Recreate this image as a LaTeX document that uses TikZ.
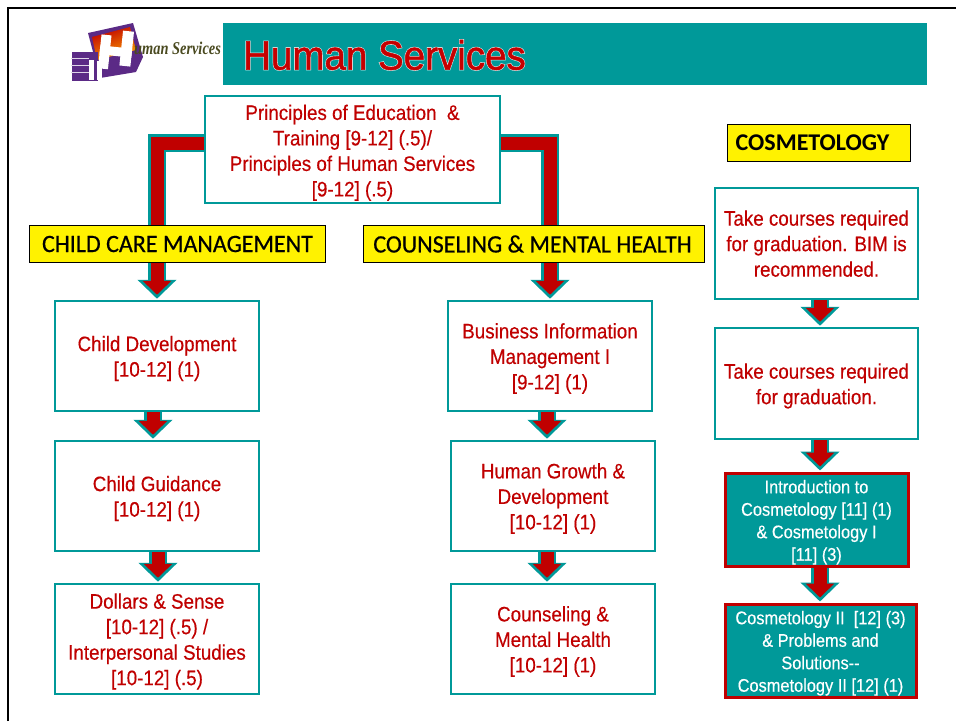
\documentclass[tikz,border=0pt]{standalone}
\usepackage{fontspec}
\setmainfont{Liberation Sans}
\newfontfamily\narrowfont[FakeStretch=0.895,FakeBold=0.35]{Liberation Sans}
\newfontfamily\headfont[FakeStretch=0.96,FakeBold=0.5]{Carlito}
\newfontfamily\headbold{Carlito}
\newfontfamily\titlefont[FakeStretch=0.94,FakeBold=1.2]{Liberation Sans}
\newfontfamily\titlehalo[FakeStretch=0.94,FakeBold=4]{Liberation Sans}
\newfontfamily\logofont[FakeStretch=0.8]{Liberation Serif}
\usepackage{tikz}
\usetikzlibrary{shapes,arrows.meta,positioning,backgrounds}
\definecolor{hsteal}{HTML}{009999}
\definecolor{hsred}{HTML}{C00000}
\definecolor{hspurple}{HTML}{5B2A86}
\definecolor{hsolive}{HTML}{4A4A20}
\newcommand{\boxlines}[2][8pt]{\raisebox{-#1}[0pt][0pt]{\begin{tabular}{@{}c@{}}#2\end{tabular}}}
\tikzstyle{wbox} = [rectangle, draw=hsteal, fill=white, line width=2.5pt, inner sep=0pt, text=hsred, font=\narrowfont\fontsize{21}{25.5}\selectfont]
\tikzstyle{tbox} = [rectangle, draw=hsred, fill=hsteal, line width=3pt, inner sep=0pt, text=white, font=\narrowfont\fontsize{18.3}{22.5}\selectfont]
\tikzstyle{ybox} = [rectangle, draw=black, fill=yellow, line width=1.2pt, minimum height=37pt, font=\headfont\fontsize{25}{30}\selectfont]
\tikzstyle{flow} = [draw=hsteal, line width=18pt, shorten >=1pt, -{Triangle[length=19pt,width=38pt]}, postaction={draw=hsred, line width=13pt, shorten >=5pt, -{Triangle[length=14pt,width=28pt]}}]

\begin{document}
\begin{tikzpicture}[x=1pt,y=-1pt]
	\useasboundingbox (0,0) rectangle (956,721);
	\coordinate (framebot) at (8,721);
	\coordinate (framecorner) at (8,8);
	\coordinate (frameend) at (956,8);
	\draw [black, line width=2.5pt] (framebot) -- (framecorner) -- (frameend);

	% logo
	\fill [hspurple] (88,33) -- (133,23) -- (143,57) -- (136,72) -- (100,78) -- cycle;
	\shade [left color=red!75!black, right color=orange!70!yellow, shading angle=20] (92,37) -- (130,27) -- (136,50) -- (97,60) -- cycle;
	\fill [white, rotate around={-6:(116,50)}] (100,36) rectangle (110,70);
	\fill [white, rotate around={-6:(116,50)}] (121,30) rectangle (132,65);
	\fill [white, rotate around={-6:(116,50)}] (100,47) rectangle (132,56);
	\fill [hspurple] (72,52) rectangle (98,81);
	\foreach \ly in {58,65,72}
		\fill [white!80!hspurple] (71,\ly) rectangle (89,\ly+1.2);
	\fill [white] (89,60) rectangle (94,80);
	\fill [white] (97,61) rectangle (102,80);
	\node [inner sep=0pt, text=hsolive, font=\logofont\bfseries\itshape\fontsize{18}{20}\selectfont] (logotext) at (177.5,48) {uman Services};

	% header
	\node [rectangle, fill=hsteal, minimum width=704pt, minimum height=62pt, inner sep=0pt] (header) at (575,54) {};
	\node [inner sep=0pt, text=white!85!hsteal, font=\titlehalo\fontsize{41}{45}\selectfont] (titlehalo) at (384.5,55) {Human Services};
	\node [inner sep=0pt, text=hsred!90!red, font=\titlefont\fontsize{41}{45}\selectfont] (title) at (384.5,55) {Human Services};

	\node [wbox, minimum width=295pt, minimum height=107pt] (principles) at (352.5,149.5) {\boxlines[8.75pt]{Principles of Education~~\&\\Training [9-12] (.5)/\\Principles of Human Services\\{[9-12]} (.5)}};

	\node [ybox, minimum width=296pt] (childcare) at (177.5,244) {CHILD CARE MANAGEMENT};
	\node [ybox, minimum width=341pt] (counseling) at (534,244) {COUNSELING \& MENTAL HEALTH\hspace*{3pt}};
	\node [ybox, minimum width=183pt, font=\headbold\bfseries\fontsize{24}{28}\selectfont] (cosmetology) at (819,143) {COSMETOLOGY\hspace*{13pt}};

	\node [wbox, minimum width=204pt, minimum height=110pt] (childdev) at (157,356) {\boxlines{Child Development\\{[10-12]} (1)}};
	\node [wbox, minimum width=204pt, minimum height=110pt] (guidance) at (157,496) {\boxlines{Child Guidance\\{[10-12]} (1)}};
	\node [wbox, minimum width=204pt, minimum height=110pt] (dollars) at (157,639) {\boxlines{Dollars \& Sense\\{[10-12]} (.5) /\\Interpersonal Studies\\{[10-12]} (.5)}};

	\node [wbox, minimum width=204pt, minimum height=110pt] (bim) at (550,356) {\boxlines{Business Information\\Management I\\{[9-12]} (1)}};
	\node [wbox, minimum width=204pt, minimum height=110pt] (growth) at (553,496) {\boxlines{Human Growth \&\\Development\\{[10-12]} (1)}};
	\node [wbox, minimum width=204pt, minimum height=110pt] (couns) at (553,639) {\boxlines{Counseling \&\\Mental Health\\{[10-12]} (1)}};

	\node [wbox, minimum width=203pt, minimum height=111pt] (take1) at (816.5,243.5) {\boxlines[7.75pt]{Take courses required\\for graduation. BIM is\\recommended.}};
	\node [wbox, minimum width=203pt, minimum height=111pt] (take2) at (816.5,383.5) {\boxlines{Take courses required\\for graduation.}};
	\node [tbox, minimum width=183pt, minimum height=93pt] (intro) at (816.5,519.5) {\boxlines[7.3pt]{Introduction to\\Cosmetology [11] (1)\\\& Cosmetology I\\{[11]} (3)}};
	\node [tbox, minimum width=191pt, minimum height=93pt] (cos2) at (820.5,650.5) {\boxlines[7.3pt]{Cosmetology II~~[12] (3)\\\& Problems and\\Solutions--\\Cosmetology II [12] (1)}};

	\begin{scope}[on background layer]
		\draw [flow] ([yshift=6.5pt]principles.west) -| (childdev.north);
		\draw [flow] ([yshift=6.5pt]principles.east) -| (bim.north);
		\draw [flow] ([xshift=-4pt]childdev.south) -- ([xshift=-4pt]guidance.north);
		\draw [flow] ([xshift=1pt]guidance.south) -- ([xshift=1pt]dollars.north);
		\draw [flow] ([xshift=-3pt]bim.south) -- ([xshift=-6pt]growth.north);
		\draw [flow] ([xshift=-6pt]growth.south) -- ([xshift=-6pt]couns.north);
		\draw [flow] ([xshift=3.5pt]take1.south) -- ([xshift=3.5pt]take2.north);
		\draw [flow] ([xshift=3.5pt]take2.south) -- ([xshift=3.5pt]intro.north);
		\draw [flow] ([xshift=3.5pt]intro.south) -- ([xshift=-0.5pt]cos2.north);
	\end{scope}
\end{tikzpicture}
\end{document}
